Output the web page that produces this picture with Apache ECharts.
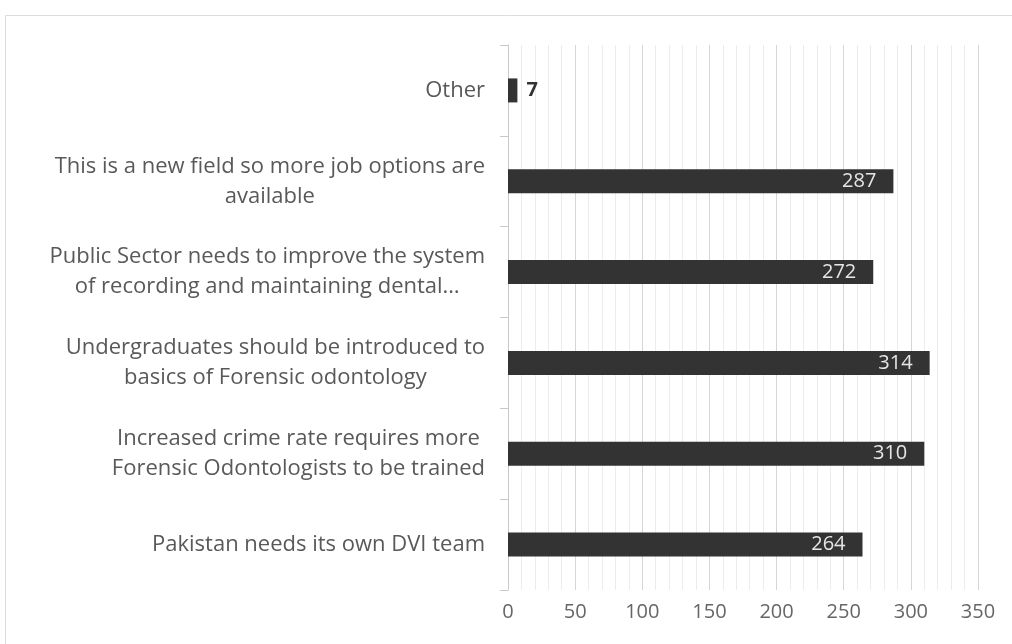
<!DOCTYPE html>
<html>
<head>
<meta charset="utf-8">
<script src="https://cdn.jsdelivr.net/npm/echarts@6/dist/echarts.min.js"></script>
<style>
  html, body { margin: 0; padding: 0; background: #fff; }
  #chart { width: 1012px; height: 644px; }
</style>
</head>
<body>
<div id="chart"></div>
<script>
// categories bottom -> top (category axis starts from the bottom)
const categories = [
  'Pakistan needs its own DVI team',
  'Increased crime rate requires more\nForensic Odontologists to be trained',
  'Undergraduates should be introduced to\nbasics of Forensic odontology',
  'Public Sector needs to improve the system\nof recording and maintaining dental…',
  'This is a new field so more job options are\navailable',
  'Other'
]
const counts = [264, 310, 314, 272, 287, 7]
const xTicks = [0, 50, 100, 150, 200, 250, 300, 350]

const myChart = echarts.init(document.getElementById('chart'))

const barData = counts.map(v => {
  // small bar gets its label outside, dark
  if (v < 30) {
    return {
      value: v,
      label: { position: 'right', color: '#333', fontWeight: 'bold', distance: 9 }
    }
  }
  return { value: v }
})

const option = {
  animation: false,
  graphic: [
    {
      type: 'rect',
      shape: { x: 5.5, y: 15.5, width: 1020, height: 660 },
      style: { fill: 'none', stroke: '#dcdcdc', lineWidth: 1 },
      silent: true
    }
  ],
  grid: { left: 508, right: 34, top: 45, bottom: 54 },
  xAxis: {
    type: 'value',
    min: xTicks[0],
    max: xTicks[xTicks.length - 1],
    interval: 50,
    axisLine: { show: false },
    axisTick: { show: false },
    axisLabel: {
      color: '#666',
      fontSize: 20,
      fontFamily: 'Open Sans',
      margin: 12
    },
    splitLine: { show: true, lineStyle: { color: '#d6d6d6', width: 1 } },
    minorTick: { show: false, splitNumber: 5 },
    minorSplitLine: { show: true, lineStyle: { color: '#ececec', width: 1 } }
  },
  yAxis: {
    type: 'category',
    data: categories,
    axisLine: { show: true, lineStyle: { color: '#c8c8c8' } },
    axisTick: { show: true, length: 8, lineStyle: { color: '#c8c8c8' } },
    axisLabel: {
      margin: 23,
      color: '#595959',
      fontSize: 22,
      fontFamily: 'Open Sans',
      lineHeight: 30,
      formatter: function(val) {
        return val.split('\n').map(s => '{c|' + s + '}').join('\n')
      },
      rich: {
        c: { align: 'center', color: '#595959', fontSize: 22, fontFamily: 'Open Sans', lineHeight: 30 }
      }
    }
  },
  series: [
    {
      type: 'bar',
      data: barData,
      barWidth: 24,
      itemStyle: { color: '#333333' },
      label: {
        show: true,
        position: 'insideRight',
        distance: 17,
        color: '#e6e6e6',
        fontSize: 20,
        fontFamily: 'Open Sans'
      }
    }
  ]
}

myChart.setOption(option)
</script>
</body>
</html>
